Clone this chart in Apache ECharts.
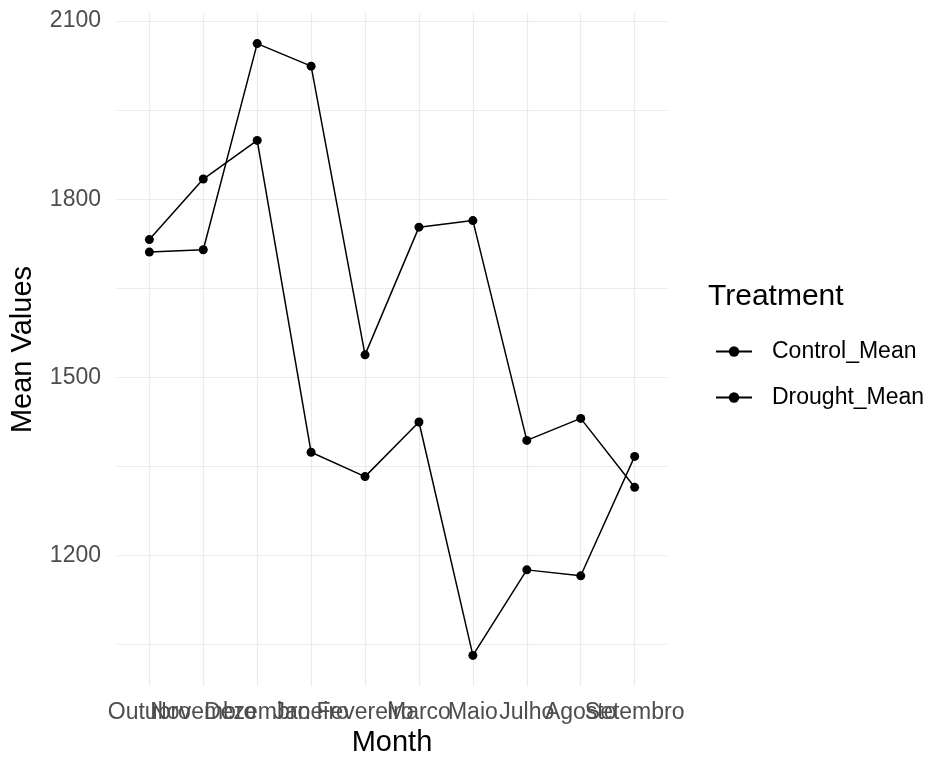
<!DOCTYPE html>
<html>
<head>
<meta charset="utf-8">
<script src="https://cdn.jsdelivr.net/npm/echarts@6/dist/echarts.min.js"></script>
<style>
  html, body { margin: 0; padding: 0; background: #ffffff; }
  #chart { width: 939px; height: 758px; }
</style>
</head>
<body>
<div id="chart"></div>
<script>
// Monthly means per treatment
const months = ['Outubro', 'Novembro', 'Dezembro', 'Janeiro', 'Fevereiro', 'Marco', 'Maio', 'Julho', 'Agosto', 'Setembro'];
const controlMean = [1711, 1715, 2062, 2024, 1538, 1753, 1764, 1394, 1431, 1315];
const droughtMean = [1732, 1834, 1899, 1374, 1333, 1425, 1032, 1176, 1166, 1367];
const yLabelValues = [1200, 1500, 1800, 2100];
const yGridValues = [1050, 1200, 1350, 1500, 1650, 1800, 1950, 2100];

const FONT = "'Liberation Sans', Arial, sans-serif";
const GRID_COLOR = '#ebebeb';

// Padded y range (5% either side of the data)
const allVals = controlMean.concat(droughtMean);
const yLo = Math.min(...allVals), yHi = Math.max(...allVals);
const yPad = (yHi - yLo) * 0.05;

const monthIdx = months.map((_, i) => i);
// Month labels are split over two stacked axes so that every name is drawn,
// even where neighbouring names run into each other.
const evenIdx = monthIdx.filter(i => i % 2 === 0);
const oddIdx = monthIdx.filter(i => i % 2 === 1);
const toPoints = arr => arr.map((v, i) => [i, v]);

const chart = echarts.init(document.getElementById('chart'), null, { renderer: 'canvas' });

const lineSeries = (name, values) => ({
  name: name,
  type: 'line',
  xAxisIndex: 0,
  yAxisIndex: 0,
  data: toPoints(values),
  symbol: 'circle',
  symbolSize: 9,
  showSymbol: true,
  color: '#000000',
  lineStyle: { color: '#000000', width: 1.5 },
  itemStyle: { color: '#000000' },
  emphasis: { disabled: true },
  animation: false,
  z: 3
});

const monthLabel = idx => ({
  customValues: idx,
  formatter: v => months[Math.round(v)] || '',
  fontFamily: FONT, fontSize: 23, color: '#4d4d4d', margin: 15,
  hideOverlap: false,
  showMinLabel: true,
  showMaxLabel: true
});

chart.setOption({
  backgroundColor: '#ffffff',
  animation: false,
  title: {
    text: 'Treatment',
    left: 708,
    top: 282,
    padding: 0,
    textStyle: { fontFamily: FONT, fontSize: 30, fontWeight: 'normal', color: '#000000', lineHeight: 30 }
  },
  legend: {
    orient: 'vertical',
    left: 715,
    top: 340,
    padding: 0,
    itemWidth: 36,
    itemHeight: 13,
    itemGap: 23,
    selectedMode: false,
    textStyle: { fontFamily: FONT, fontSize: 23, color: '#000000', lineHeight: 23, padding: [0, 0, 0, 15] },
    data: ['Control_Mean', 'Drought_Mean']
  },
  grid: { left: 117, top: 13, width: 550, height: 673, containLabel: false, outerBoundsMode: 'none' },
  xAxis: [
    {
      type: 'value',
      position: 'bottom',
      offset: 0,
      min: -0.6,
      max: months.length - 1 + 0.6,
      name: 'Month',
      nameLocation: 'middle',
      nameGap: 42,
      nameTextStyle: { fontFamily: FONT, fontSize: 29, color: '#000000', verticalAlign: 'top', lineHeight: 29 },
      axisLine: { show: false },
      axisTick: { show: false, customValues: monthIdx },
      axisLabel: monthLabel(evenIdx),
      splitLine: { show: true, lineStyle: { color: GRID_COLOR, width: 1.2 } }
    },
    {
      type: 'value',
      position: 'bottom',
      offset: 0,
      min: -0.6,
      max: months.length - 1 + 0.6,
      axisLine: { show: false },
      axisTick: { show: false, customValues: oddIdx },
      axisLabel: monthLabel(oddIdx),
      splitLine: { show: false }
    }
  ],
  yAxis: {
    type: 'value',
    min: yLo - yPad,
    max: yHi + yPad,
    name: 'Mean Values',
    nameLocation: 'middle',
    nameGap: 80,
    nameRotate: 90,
    nameTextStyle: { fontFamily: FONT, fontSize: 29, color: '#000000', lineHeight: 29 },
    axisLine: { show: false },
    axisTick: { show: false, customValues: yGridValues },
    axisLabel: {
      customValues: yLabelValues,
      formatter: v => String(v),
      fontFamily: FONT, fontSize: 23, color: '#4d4d4d', margin: 16,
      showMinLabel: true,
      showMaxLabel: true
    },
    splitLine: { show: true, lineStyle: { color: GRID_COLOR, width: 1.2 } }
  },
  series: [
    lineSeries('Control_Mean', controlMean),
    lineSeries('Drought_Mean', droughtMean)
  ]
});
</script>
</body>
</html>
